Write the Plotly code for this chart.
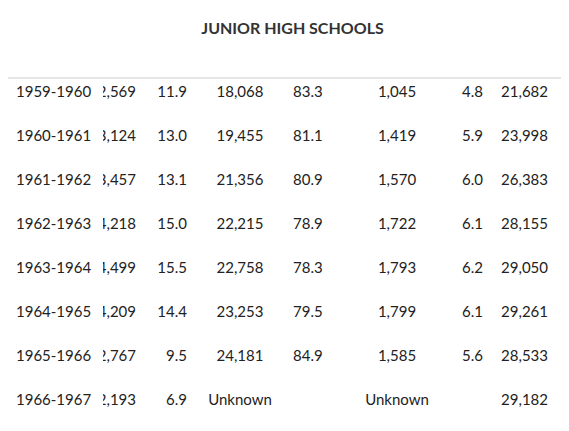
import plotly.graph_objects as go

years = ["1959-1960","1960-1961","1961-1962","1962-1963","1963-1964","1964-1965","1965-1966","1966-1967"]
c1 = ["2,569","3,124","3,457","4,218","4,499","4,209","2,767","2,193"]
c2 = ["11.9","13.0","13.1","15.0","15.5","14.4","9.5","6.9"]
c3 = ["18,068","19,455","21,356","22,215","22,758","23,253","24,181","Unknown"]
c4 = ["83.3","81.1","80.9","78.9","78.3","79.5","84.9",""]
c5 = ["1,045","1,419","1,570","1,722","1,793","1,799","1,585","Unknown"]
c6 = ["4.8","5.9","6.0","6.1","6.2","6.1","5.6",""]
c7 = ["21,682","23,998","26,383","28,155","29,050","29,261","28,533","29,182"]
title = "JUNIOR HIGH SCHOOLS"

W, H = 569, 431
widths = [95, 41, 51, 90, 53, 118, 35, 65]
font = dict(family="Lato", size=15, color="#222")

fig = go.Figure(go.Table(
    domain=dict(x=[0, sum(widths)/W], y=[0, 1-45/H]),
    columnwidth=widths,
    header=dict(values=[""]*8, height=25, fill_color="white", line=dict(width=0, color="white")),
    cells=dict(values=[years, c1, c2, c3, c4, c5, c6, c7], height=44,
               align=["left","right","right","center","left","center","right","right"],
               fill_color="white", line=dict(width=0, color="white"), font=font),
))
for y in (70, 424):
    fig.add_shape(type="line", xref="paper", yref="paper", x0=0, x1=556/W,
                  y0=1-y/H, y1=1-y/H, line=dict(color="#ddd", width=1.5))
fig.update_layout(
    width=W, height=H, margin=dict(l=0, r=0, t=0, b=0), paper_bgcolor="white",
    title=dict(text="<b>"+title+"</b>", x=0.5, xanchor="center", y=1-20/H, yanchor="middle",
               font=dict(family="Lato", size=16, color="#333")),
)
fig.write_html("out.html")
